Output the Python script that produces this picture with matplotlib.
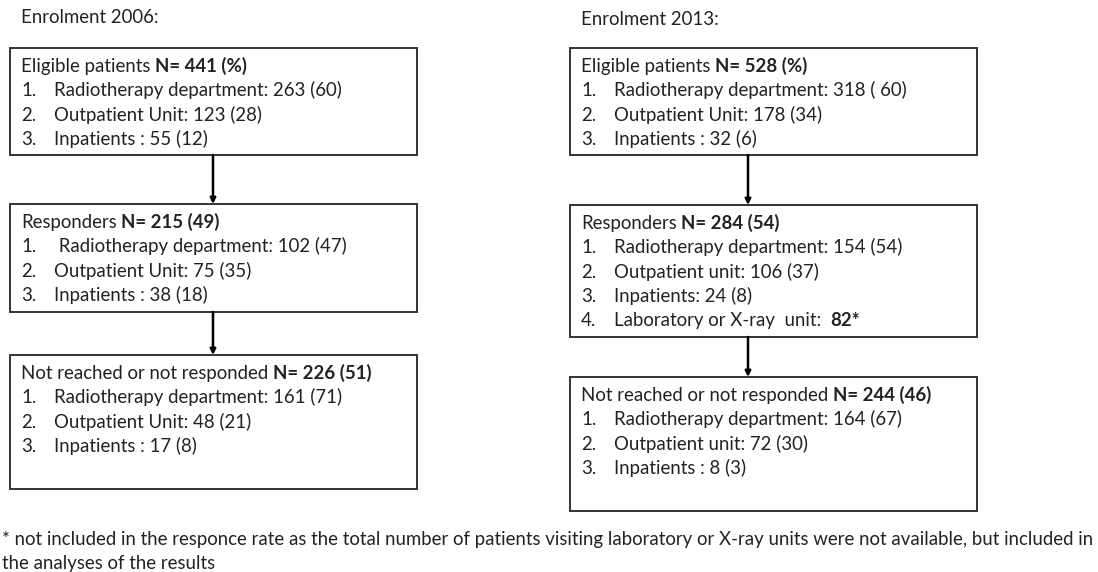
import matplotlib.pyplot as plt
from matplotlib.patches import Rectangle

plt.rcParams['font.family'] = ['Lato', 'DejaVu Sans']

# chart text
titles = ["Enrolment 2006:", "Enrolment 2013:"]

heads = ["Eligible patients", "Responders", "Not reached or not responded"]

counts_2006 = ["N= 441 (%)", "N= 215 (49)", "N= 226 (51)"]
items_2006 = [
    ["Radiotherapy department: 263 (60)", "Outpatient Unit: 123 (28)", "Inpatients : 55 (12)"],
    [" Radiotherapy department: 102 (47)", "Outpatient Unit: 75 (35)", "Inpatients : 38 (18)"],
    ["Radiotherapy department: 161 (71)", "Outpatient Unit: 48 (21)", "Inpatients : 17 (8)"],
]

counts_2013 = ["N= 528 (%)", "N= 284 (54)", "N= 244 (46)"]
items_2013 = [
    ["Radiotherapy department: 318 ( 60)", "Outpatient Unit: 178 (34)", "Inpatients : 32 (6)"],
    ["Radiotherapy department: 154 (54)", "Outpatient unit: 106 (37)", "Inpatients: 24 (8)",
     "Laboratory or X-ray  unit:"],
    ["Radiotherapy department: 164 (67)", "Outpatient unit: 72 (30)", "Inpatients : 8 (3)"],
]
lab_count = "82*"

footnote = [
    "* not included in the responce rate as the total number of patients visiting laboratory "
    "or X-ray units were not available, but included in",
    "the analyses of the results",
]

# layout in pixels (y downwards)
W, H = 1098, 572
col_x = [(10, 417), (570, 977)]
box_y = [[(48, 155), (204, 312), (355, 489)],
         [(48, 155), (205, 337), (377, 511)]]
arrow_x = [213, 748]
title_pos = [(21, 17), (581, 19)]
line_step = 24.2

fig = plt.figure(figsize=(W / 100, H / 100), dpi=100)
ax = fig.add_axes([0, 0, 1, 1])
ax.set_xlim(0, W)
ax.set_ylim(H, 0)
ax.axis('off')
renderer = fig.canvas.get_renderer()

# fit font size to the footnote width
probe = ax.text(0, 0, footnote[0], fontsize=12)
fs = 12 * 1088 / probe.get_window_extent(renderer).width
probe.remove()
fs_px = fs * 100 / 72
base = fs_px * 0.33  # center -> baseline
color = '#222222'


def put(x, y, s, bold=False):
    return ax.text(x, y + base, s, fontsize=fs, va='baseline', color=color,
                   fontweight='bold' if bold else 'normal')


def put_mixed(x, y, plain, bold, gap=1):
    t = put(x, y, plain)
    bb = t.get_window_extent(renderer)
    x1 = ax.transData.inverted().transform((bb.x1, bb.y0))[0]
    put(x1 + gap * fs_px * 0.24, y, bold, bold=True)


for c, (counts, items) in enumerate([(counts_2006, items_2006), (counts_2013, items_2013)]):
    x0, x1 = col_x[c]
    put(title_pos[c][0], title_pos[c][1], titles[c])
    for b in range(3):
        y0, y1 = box_y[c][b]
        ax.add_patch(Rectangle((x0, y0), x1 - x0, y1 - y0, fill=False,
                               edgecolor='#333333', lw=1.4))
        ty = y0 + 18
        put_mixed(x0 + 11, ty, heads[b], counts[b])
        for i, s in enumerate(items[b]):
            yy = ty + line_step * (i + 1)
            put(x0 + 11, yy, f"{i + 1}.")
            if c == 1 and b == 1 and i == 3:
                put_mixed(x0 + 44, yy, s, lab_count, gap=2)
            else:
                put(x0 + 44, yy, s)
        if b < 2:
            ax.annotate('', xy=(arrow_x[c], box_y[c][b + 1][0]), xytext=(arrow_x[c], y1),
                        arrowprops=dict(arrowstyle='-|>', lw=1.8, color='black',
                                        mutation_scale=8, shrinkA=0, shrinkB=0))

put(2, 539, footnote[0])
put(2, 563, footnote[1])

fig.savefig('out.png', dpi=100, facecolor='white')
